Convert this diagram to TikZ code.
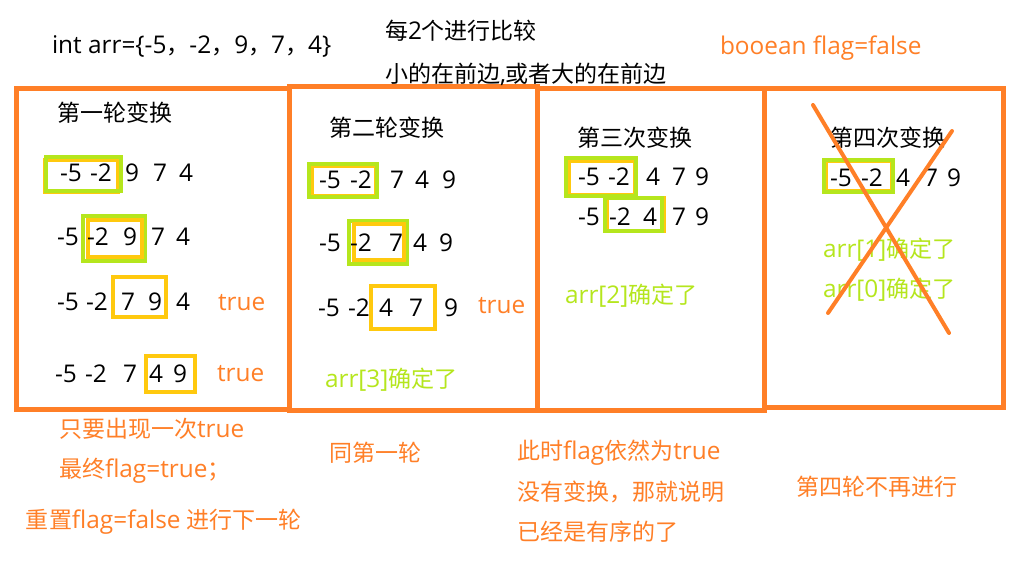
\documentclass[tikz,border=0pt]{standalone}
\usepackage{fontspec}
\setmainfont{Noto Sans CJK SC}
\newfontfamily\lat[Scale=1.06]{Open Sans}
\definecolor{boxorange}{HTML}{FF7F27}
\definecolor{boxgreen}{HTML}{B5E61D}
\definecolor{boxyellow}{HTML}{FFC90E}
\begin{document}
\begin{tikzpicture}[x=0.75pt,y=-0.75pt,
  every node/.style={inner sep=0pt,outer sep=0pt,font=\fontsize{17.25}{20}\selectfont},
  num/.style={anchor=center,text=black,font=\fontsize{17.25}{20}\selectfont\lat},
  btxt/.style={anchor=base west,text=black},
  otxt/.style={anchor=base west,text=boxorange},
  gtxt/.style={anchor=base west,text=boxgreen},
  roundbox/.style={draw=boxorange,line width=3.75pt},
  greenbox/.style={draw=boxgreen,line width=3pt},
  yellowbox/.style={draw=boxyellow,line width=3pt},
  crossline/.style={draw=boxorange,line width=3pt,line cap=round}]
\useasboundingbox (0,0) rectangle (1023,560);
\fill[white] (0,0) rectangle (1023,560);

% round frames
\draw[roundbox] (16.5,88.5) rectangle (289,409.5);
\draw[roundbox] (289,86) rectangle (537,410);
\draw[roundbox] (537,88) rectangle (764,410);
\draw[roundbox] (764,88) rectangle (1003.5,407);

% top texts
\node[btxt] (arr) at (52,54) {{\lat int arr=\{-5}，{\lat -2}，{\lat 9}，{\lat 7}，{\lat 4\}}};
\node[btxt] (rule1) at (385,40) {每{\lat 2}个进行比较};
\node[btxt] (rule2) at (385,82) {小的在前边{\lat ,}或者大的在前边};
\node[otxt] (flag) at (720,55) {\lat booean flag=false};

% headings
\node[btxt] (h1) at (57,121) {第一轮变换};
\node[btxt] (h2) at (329,136) {第二轮变换};
\node[btxt] (h3) at (577,146) {第三次变换};
\node[btxt] (h4) at (830,146) {第四次变换};

% comparison boxes
\draw[yellowbox] (45,160) rectangle (118,192);
\draw[greenbox] (46,157) rectangle (121,191);
\draw[greenbox] (83,216) rectangle (145,261);
\draw[yellowbox] (87.5,220) rectangle (141.5,256.5);
\draw[yellowbox] (113,277) rectangle (166,317);
\draw[yellowbox] (146,356) rectangle (195,392);

\draw[yellowbox] (312,166) rectangle (376,196);
\draw[greenbox] (309,164) rectangle (377,197);
\draw[greenbox] (349,221) rectangle (407,264);
\draw[yellowbox] (353.5,224) rectangle (404,260);
\draw[yellowbox] (371,286) rectangle (435,329);

\draw[yellowbox] (569,161) rectangle (635,195);
\draw[greenbox] (566,158) rectangle (636,196);
\draw[yellowbox] (607,198) rectangle (664,231);
\draw[greenbox] (605,198) rectangle (662,231);

\draw[yellowbox] (826,161) rectangle (892,191);
\draw[greenbox] (824,160) rectangle (893,192);

% round 1 numbers
\node[num] (a1) at (71,173) {-5};
\node[num] (a2) at (101,173) {-2};
\node[num] (a3) at (132,173) {9};
\node[num] (a4) at (160,173) {7};
\node[num] (a5) at (186,173) {4};
\node[num] (b1) at (68,237) {-5};
\node[num] (b2) at (98,237) {-2};
\node[num] (b3) at (130,237) {9};
\node[num] (b4) at (158,237) {7};
\node[num] (b5) at (183,237) {4};
\node[num] (c1) at (68,302) {-5};
\node[num] (c2) at (97,302) {-2};
\node[num] (c3) at (128,302) {7};
\node[num] (c4) at (155,302) {9};
\node[num] (c5) at (183,302) {4};
\node[num] (d1) at (66,374) {-5};
\node[num] (d2) at (96,374) {-2};
\node[num] (d3) at (130,374) {7};
\node[num] (d4) at (156,374) {4};
\node[num] (d5) at (180,374) {9};
\node[otxt] (true1) at (218,310) {\lat true};
\node[otxt] (true2) at (217,381) {\lat true};

% round 2 numbers
\node[num] (e1) at (330,180) {-5};
\node[num] (e2) at (361,180) {-2};
\node[num] (e3) at (397,180) {7};
\node[num] (e4) at (422,180) {4};
\node[num] (e5) at (449,180) {9};
\node[num] (f1) at (330,243) {-5};
\node[num] (f2) at (361,243) {-2};
\node[num] (f3) at (396,243) {7};
\node[num] (f4) at (420,243) {4};
\node[num] (f5) at (446,243) {9};
\node[num] (g1) at (329,308) {-5};
\node[num] (g2) at (359,308) {-2};
\node[num] (g3) at (386,308) {4};
\node[num] (g4) at (416,308) {7};
\node[num] (g5) at (451,308) {9};
\node[otxt] (true3) at (478,313) {\lat true};
\node[gtxt] (fix3) at (325,387) {{\lat arr[3]}确定了};

% round 3 numbers
\node[num] (h1a) at (589,177) {-5};
\node[num] (h1b) at (619,177) {-2};
\node[num] (h1c) at (653,177) {4};
\node[num] (h1d) at (679,177) {7};
\node[num] (h1e) at (702,177) {9};
\node[num] (i1) at (589,217) {-5};
\node[num] (i2) at (620,217) {-2};
\node[num] (i3) at (650,217) {4};
\node[num] (i4) at (679,217) {7};
\node[num] (i5) at (702,217) {9};
\node[gtxt] (fix2) at (565,303) {{\lat arr[2]}确定了};

% round 4 numbers
\node[num] (j1) at (841,178) {-5};
\node[num] (j2) at (872,178) {-2};
\node[num] (j3) at (903,178) {4};
\node[num] (j4) at (931,178) {7};
\node[num] (j5) at (954,178) {9};
\node[gtxt] (fix1) at (823,257) {{\lat arr[1]}确定了};
\node[gtxt] (fix0) at (823,297) {{\lat arr[0]}确定了};

% cross over round 4
\draw[crossline] (813,105) -- (949,333);
\draw[crossline] (952,131) -- (828,313);

% bottom notes
\node[otxt] (n1) at (59,437) {只要出现一次{\lat true}};
\node[otxt] (n2) at (59,477) {最终{\lat flag=true}；};
\node[otxt] (n3) at (26,528) {重置{\lat flag=false }进行下一轮};
\node[otxt] (n4) at (329,461) {同第一轮};
\node[otxt] (n5) at (517,459) {此时{\lat flag}依然为{\lat true}};
\node[otxt] (n6) at (517,500) {没有变换，那就说明};
\node[otxt] (n7) at (517,540) {已经是有序的了};
\node[otxt] (n8) at (796,495) {第四轮不再进行};
\end{tikzpicture}
\end{document}
